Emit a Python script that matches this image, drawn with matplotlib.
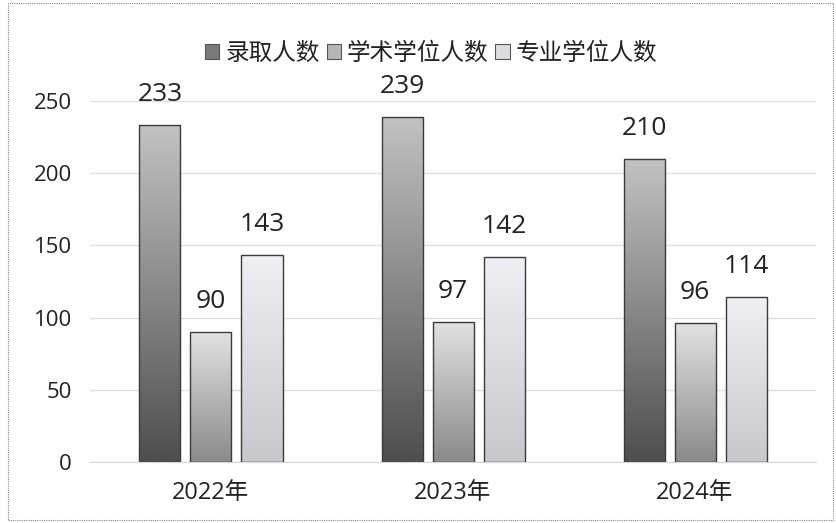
import matplotlib
matplotlib.use("Agg")
import matplotlib.pyplot as plt
import numpy as np
from matplotlib.patches import Rectangle
from matplotlib.colors import LinearSegmentedColormap

plt.rcParams['font.family'] = ['Open Sans', 'Noto Sans CJK SC', 'DejaVu Sans']

categories = ['2022年', '2023年', '2024年']
series_names = ['录取人数', '学术学位人数', '专业学位人数']
values = {
    '录取人数': [233, 239, 210],
    '学术学位人数': [90, 97, 96],
    '专业学位人数': [143, 142, 114],
}
yticks = [0, 50, 100, 150, 200, 250]

# gradient colours (bottom, top)
grads = [('#4e4e4e', '#c2c2c2'), ('#8a8a8a', '#e2e2e2'), ('#c8c8cc', '#f0f0f4')]
legend_colors = ['#7a7a7a', '#b5b5b5', '#dcdce0']

fig = plt.figure(figsize=(8.37, 5.23), dpi=100)
fig.patch.set_facecolor('white')
ax = fig.add_axes([0.1075, 0.1166, 0.8675, 0.6904])

x = np.arange(len(categories))
bw = 41 / 242
gap = 10 / 242
offsets = [-(bw + gap), 0, bw + gap]

ax.set_xlim(-0.5, len(categories) - 0.5)
ax.set_ylim(0, 250)

for si, name in enumerate(series_names):
    vals = values[name]
    bars = ax.bar(x + offsets[si], vals, width=bw, facecolor='none',
                  edgecolor='#3a3a3a', linewidth=1.0, zorder=3)
    cmap = LinearSegmentedColormap.from_list('g%d' % si, [grads[si][0], grads[si][1]])
    for b, v in zip(bars, vals):
        x0 = b.get_x()
        grad = np.linspace(0, 1, 256).reshape(-1, 1)
        im = ax.imshow(grad, extent=[x0, x0 + b.get_width(), 0, v], origin='lower',
                       cmap=cmap, aspect='auto', zorder=2, interpolation='bilinear')
        im.set_clip_path(b)
        ax.annotate(str(v), (x0 + b.get_width() / 2, v), xytext=(0, 22),
                    textcoords='offset points', ha='center', va='center',
                    fontsize=19, color='#222222', zorder=4, annotation_clip=False)

ax.set_xlim(-0.5, len(categories) - 0.5)
ax.set_ylim(0, 250)
ax.set_yticks(yticks)
ax.set_yticklabels([str(t) for t in yticks], fontsize=16, color='#222222')
ax.set_xticks(x)
ax.set_xticklabels(categories, fontsize=17, color='#222222')
ax.tick_params(axis='x', length=0, pad=14)
ax.tick_params(axis='y', length=0, pad=13)
ax.grid(axis='y', color='#e0e0e0', linewidth=1.0, zorder=0)
for s in ['top', 'right', 'left']:
    ax.spines[s].set_visible(False)
ax.spines['bottom'].set_color('#d8d8d8')

handles = [Rectangle((0, 0), 1, 1, facecolor=c, edgecolor='#555555', linewidth=0.8)
           for c in legend_colors]
fig.legend(handles, series_names, loc='center', bbox_to_anchor=(0.515, 0.897),
           ncol=3, frameon=False, fontsize=17, handlelength=0.6, handleheight=0.6,
           handletextpad=0.25, columnspacing=0.3, labelcolor='#222222')

# dotted frame around the figure
fig.add_artist(Rectangle((0.01, 0.005), 0.985, 0.99, transform=fig.transFigure,
                         fill=False, edgecolor='#888888', linewidth=0.8,
                         linestyle=(0, (1, 1))))

fig.savefig('out.png', dpi=100)
